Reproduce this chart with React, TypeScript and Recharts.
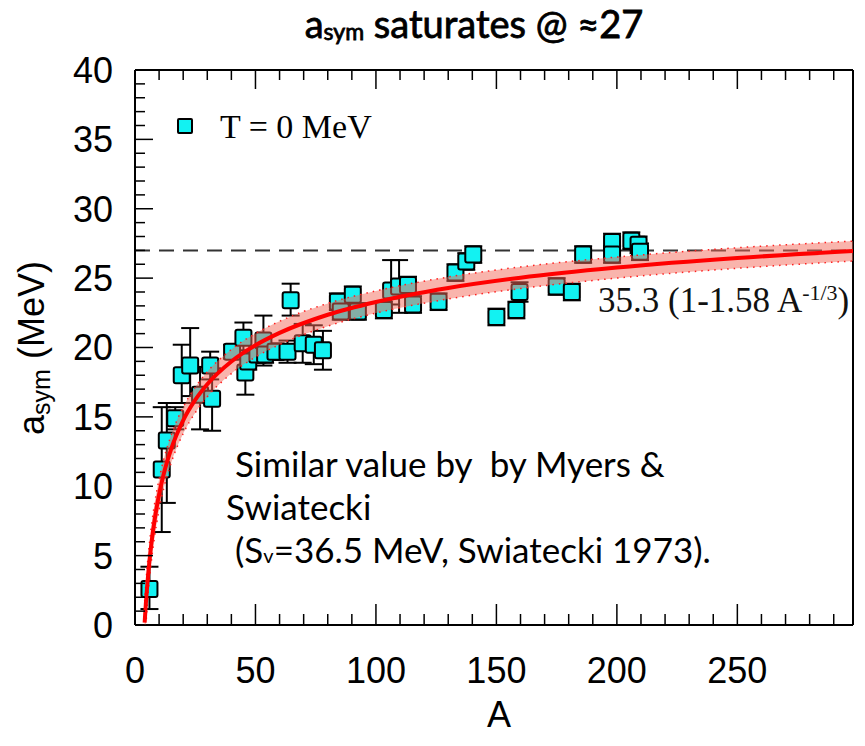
import React from "react"
import { Area, ComposedChart, ErrorBar, Line, ReferenceLine, Scatter, XAxis, YAxis } from "recharts"

// measured points, T = 0 MeV
const massNumber = [6, 11.1, 13.2, 16.7, 19.4, 22.9, 27, 31.2, 32, 40.3, 45, 45.8, 47, 50.8, 53.3, 54, 58.3, 63.3, 64.6, 69.6, 74.2, 78, 84.2, 85.4, 90.4, 92.5, 103.3, 106.3, 109.6, 113.3, 115.4, 126, 133, 137.5, 140.4, 150, 158.3, 159.6, 175, 181.3, 186, 198, 198, 206, 209, 209.6]
const asymValue = [2.6, 11.2, 13.3, 14.9, 18.0, 18.7, 16.6, 18.7, 16.3, 19.7, 20.7, 18.2, 19.0, 19.5, 20.5, 19.5, 19.7, 19.7, 23.4, 20.3, 20.2, 19.8, 23.3, 22.6, 23.8, 22.6, 22.7, 24.1, 24.4, 24.5, 23.1, 23.3, 25.4, 26.2, 26.7, 22.2, 22.7, 24.0, 24.4, 24.0, 26.7, 27.6, 26.7, 27.7, 27.4, 26.9]
const errDown = [1.45, 4.5, 4.5, 0.8, 2.0, 2.2, 2.5, 1.0, 2.3, 0.5, 1.1, 1.6, 0.6, 0.6, 1.8, 0.6, 0.6, 0.8, 1.1, 1.4, 1.4, 1.4, 0.6, 0.6, 0.6, 0.6, 0.6, 1.0, 1.9, 0.6, 0.6, 0.6, 0.6, 0.6, 0.6, 0.6, 0.6, 0.7, 0.6, 0.6, 0.6, 0.6, 0.6, 0.6, 0.6, 0.6]
const errUp = [1.6, 4.5, 2.7, 0.8, 2.2, 2.7, 2.0, 1.0, 2.2, 0.5, 1.1, 1.6, 0.6, 0.6, 1.8, 0.6, 0.6, 0.8, 1.2, 1.4, 1.4, 1.4, 0.6, 0.6, 0.6, 0.6, 0.6, 2.2, 1.9, 0.6, 0.6, 0.6, 0.6, 0.6, 0.6, 0.6, 0.6, 0.7, 0.6, 0.6, 0.6, 0.6, 0.6, 0.6, 0.6, 0.6]

// fit 35.3 (1-1.58 A^-1/3) and its band
const fitA = [4, 4.5, 5, 6, 7, 8, 10, 12, 15, 20, 25, 30, 40, 50, 60, 80, 100, 130, 160, 200, 250, 298]
const fitValue = [0.17, 1.52, 2.68, 4.61, 6.15, 7.41, 9.41, 10.94, 12.68, 14.75, 16.22, 17.35, 18.99, 20.16, 21.05, 22.36, 23.28, 24.29, 25.03, 25.76, 26.45, 26.95]
const bandLow = [0, 0.1, 1.28, 3.31, 4.9, 6.21, 8.31, 9.89, 11.68, 13.8, 15.3, 16.45, 18.12, 19.31, 20.21, 21.54, 22.48, 23.5, 24.25, 25.0, 25.71, 26.23]
const bandHigh = [1.7, 2.95, 4.08, 5.91, 7.4, 8.61, 10.51, 11.99, 13.68, 15.7, 17.14, 18.25, 19.86, 21.01, 21.89, 23.18, 24.08, 25.08, 25.81, 26.52, 27.19, 27.67]

const saturation = 27
const xTicks = [0, 10, 20, 30, 40, 50, 60, 70, 80, 90, 100, 110, 120, 130, 140, 150, 160, 170, 180, 190, 200, 210, 220, 230, 240, 250, 260, 270, 280, 290]
const yTicks = [0, 1, 2, 3, 4, 5, 6, 7, 8, 9, 10, 11, 12, 13, 14, 15, 16, 17, 18, 19, 20, 21, 22, 23, 24, 25, 26, 27, 28, 29, 30, 31, 32, 33, 34, 35, 36, 37, 38, 39, 40]

const points = massNumber.map((a, i) => ({ A: a, asym: asymValue[i], err: [errDown[i], errUp[i]] }))
const fitData = fitA.map((a, i) => ({ A: a, fit: fitValue[i], low: bandLow[i], high: bandHigh[i], band: [bandLow[i], bandHigh[i]] }))

const axisFont = "'Liberation Sans', Arial, sans-serif"
const serif = "'Liberation Serif', 'Times New Roman', serif"

const Square = (props: any) => {
  const { cx, cy } = props
  if (cx == null || cy == null) return null
  return <rect x={cx - 8} y={cy - 8} width={16} height={16} rx={2} fill="#12f2f2" stroke="#000" strokeWidth={2} />
}

const BottomTick = (props: any) => {
  const { x, y, payload } = props
  const major = payload.value % 50 === 0
  return (
    <g>
      <line x1={x} y1={y} x2={x} y2={y - (major ? 21 : 11)} stroke="#000" strokeWidth={1.5} />
      {major && (
        <text x={x} y={y + 58} textAnchor="middle" fontSize={36} fontFamily={axisFont} fill="#000">
          {payload.value}
        </text>
      )}
    </g>
  )
}

const TopTick = (props: any) => {
  const { x, y, payload } = props
  const major = payload.value % 50 === 0
  return <line x1={x} y1={y} x2={x} y2={y + (major ? 19 : 10)} stroke="#000" strokeWidth={1.5} />
}

const LeftTick = (props: any) => {
  const { x, y, payload } = props
  const major = payload.value % 5 === 0
  return (
    <g>
      <line x1={x} y1={y} x2={x + (major ? 18 : 10)} y2={y} stroke="#000" strokeWidth={1.5} />
      {major && (
        <text x={x - 22} y={y} dy="0.36em" textAnchor="end" fontSize={36} fontFamily={axisFont} fill="#000">
          {payload.value}
        </text>
      )}
    </g>
  )
}

const RightTick = (props: any) => {
  const { x, y, payload } = props
  const major = payload.value % 5 === 0
  return <line x1={x} y1={y} x2={x - (major ? 16 : 9)} y2={y} stroke="#000" strokeWidth={1.5} />
}

export default function App() {
  return (
    <div style={{ position: "absolute", left: 0, top: 0, width: 865, height: 746, background: "#fff" }}>
      <ComposedChart width={865} height={746} data={fitData} margin={{ top: 0, right: 0, bottom: 0, left: 0 }}>
        <XAxis
          type="number"
          dataKey="A"
          domain={[0, 298]}
          allowDataOverflow
          ticks={xTicks}
          interval={0}
          height={121}
          tickSize={0}
          tickMargin={0}
          tick={BottomTick}
          tickLine={false}
          axisLine={{ stroke: "#000", strokeWidth: 2 }}
        />
        <XAxis
          xAxisId="top"
          orientation="top"
          type="number"
          dataKey="A"
          domain={[0, 298]}
          allowDataOverflow
          ticks={xTicks}
          interval={0}
          height={70}
          tickSize={0}
          tickMargin={0}
          tick={TopTick}
          tickLine={false}
          axisLine={{ stroke: "#000", strokeWidth: 2 }}
        />
        <YAxis
          type="number"
          domain={[0, 40]}
          allowDataOverflow
          ticks={yTicks}
          interval={0}
          width={135}
          tickSize={0}
          tickMargin={0}
          tick={LeftTick}
          tickLine={false}
          axisLine={{ stroke: "#000", strokeWidth: 2 }}
        />
        <YAxis
          yAxisId="right"
          orientation="right"
          type="number"
          domain={[0, 40]}
          ticks={yTicks}
          interval={0}
          width={12}
          tickSize={0}
          tickMargin={0}
          tick={RightTick}
          tickLine={false}
          axisLine={{ stroke: "#000", strokeWidth: 2 }}
        />
        <ReferenceLine y={saturation} stroke="#333" strokeWidth={2} strokeDasharray="15 9" />
        <Scatter data={points} dataKey="asym" shape={Square} isAnimationActive={false}>
          <ErrorBar dataKey="err" direction="y" width={9} stroke="#000" strokeWidth={2} />
        </Scatter>
        <Area
          type="monotone"
          dataKey="band"
          stroke="none"
          fill="#f46a5a"
          fillOpacity={0.5}
          isAnimationActive={false}
          zIndex={700}
        />
        <Line type="monotone" dataKey="low" stroke="#ff2020" strokeWidth={1.5} strokeDasharray="1.5 5" dot={false} isAnimationActive={false} zIndex={700} />
        <Line type="monotone" dataKey="high" stroke="#ff2020" strokeWidth={1.5} strokeDasharray="1.5 5" dot={false} isAnimationActive={false} zIndex={700} />
        <Line type="monotone" dataKey="fit" stroke="#ff0000" strokeWidth={4} dot={false} isAnimationActive={false} zIndex={700} />
      </ComposedChart>

      <div
        style={{
          position: "absolute",
          left: 0,
          width: 948,
          top: 0,
          textAlign: "center",
          fontFamily: "Lato, 'Open Sans', sans-serif",
          fontWeight: 400,
          fontSize: 38,
          color: "#000",
          whiteSpace: "nowrap",
          WebkitTextStroke: "0.8px #000",
        }}
      >
        a<sub style={{ fontSize: 23, verticalAlign: "-2px" }}>sym</sub> saturates @ ≈27
      </div>

      <div
        style={{
          position: "absolute",
          left: 33,
          top: 348,
          transform: "translate(-50%, -50%) rotate(-90deg)",
          fontFamily: axisFont,
          fontSize: 36,
          whiteSpace: "nowrap",
          color: "#000",
        }}
      >
        a<sub style={{ fontSize: 25, verticalAlign: "-6px" }}>sym</sub> (MeV)
      </div>

      <div
        style={{
          position: "absolute",
          left: 499,
          top: 715,
          transform: "translate(-50%, -50%)",
          fontFamily: axisFont,
          fontSize: 36,
          color: "#000",
        }}
      >
        A
      </div>

      <div style={{ position: "absolute", left: 177, top: 118, width: 16, height: 16, background: "#12f2f2", border: "2px solid #000", borderRadius: 2, boxSizing: "border-box" }} />
      <div
        style={{
          position: "absolute",
          left: 220,
          top: 127,
          transform: "translateY(-50%)",
          fontFamily: serif,
          fontSize: 34,
          whiteSpace: "nowrap",
          color: "#000",
        }}
      >
        T = 0 MeV
      </div>

      <div
        style={{
          position: "absolute",
          left: 598,
          top: 300,
          transform: "translateY(-50%)",
          fontFamily: serif,
          fontSize: 35,
          whiteSpace: "nowrap",
          color: "#111",
        }}
      >
        35.3 (1-1.58 A<sup style={{ fontSize: 22, verticalAlign: "12px" }}>-1/3</sup>)
      </div>

      <div
        style={{
          position: "absolute",
          left: 226,
          top: 442,
          fontFamily: "Lato, 'Open Sans', sans-serif",
          fontSize: 35,
          lineHeight: "43px",
          color: "#000",
          whiteSpace: "pre",
        }}
      >
        {" Similar value by  by Myers &\nSwiatecki\n (S"}
        <sub style={{ fontSize: 20, verticalAlign: "0px", lineHeight: 0 }}>v</sub>
        {"=36.5 MeV, Swiatecki 1973)."}
      </div>
    </div>
  )
}
